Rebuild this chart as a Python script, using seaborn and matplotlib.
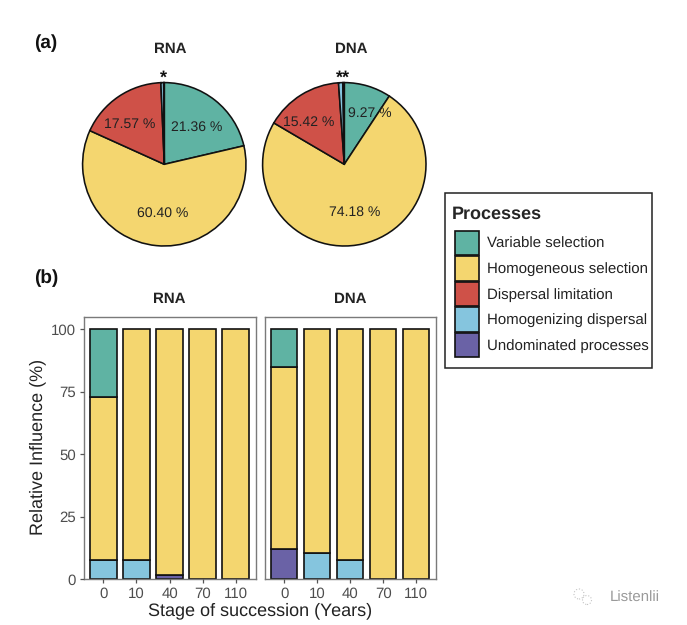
import matplotlib
matplotlib.use('Agg')
import matplotlib.pyplot as plt
from matplotlib.patches import Patch, Ellipse, Rectangle
import numpy as np
import pandas as pd
import seaborn as sns

W, H = 687, 625

processes = ['Variable selection', 'Homogeneous selection', 'Dispersal limitation',
             'Homogenizing dispersal', 'Undominated processes']
colors = ['#5FB3A3', '#F4D66F', '#CF5148', '#85C5DE', '#6A62A6']
stages = ['0', '10', '40', '70', '110']

# pie shares, same order as processes
pie_rna = [21.36, 60.40, 17.57, 0.55, 0.12]
pie_dna = [9.27, 74.18, 15.42, 0.85, 0.28]

# bar values per stage
rna_variable = [27.3, 0, 0, 0, 0]
rna_homogeneous = [65.1, 92.4, 98.4, 100, 100]
rna_limitation = [0, 0, 0, 0, 0]
rna_homogenizing = [7.6, 7.6, 0, 0, 0]
rna_undominated = [0, 0, 1.6, 0, 0]

dna_variable = [15.1, 0, 0, 0, 0]
dna_homogeneous = [72.8, 89.5, 92.4, 100, 100]
dna_limitation = [0, 0, 0, 0, 0]
dna_homogenizing = [0, 10.5, 7.6, 0, 0]
dna_undominated = [12.1, 0, 0, 0, 0]

sns.set_theme(style='white')
plt.rcParams['font.family'] = ['Liberation Sans', 'DejaVu Sans']
plt.rcParams['text.hinting'] = 'no_hinting'
plt.rcParams['text.hinting_factor'] = 1


def px_axes(fig, left, top, right, bottom):
    """Axes from pixel box, y counted from the top of the image."""
    return fig.add_axes([left / W, 1 - bottom / H, (right - left) / W, (bottom - top) / H])


def px_text(fig, x, y, s, **kw):
    kw.setdefault('ha', 'center')
    kw.setdefault('va', 'center')
    fig.text(x / W, 1 - y / H, s, **kw)


def draw_pie(ax, values):
    wedges, _ = ax.pie(values, colors=colors, startangle=90, counterclock=False, radius=1,
                       wedgeprops={'edgecolor': '#111111', 'linewidth': 1.15})
    for w in wedges:
        w.set_clip_on(False)
    ax.set_xlim(-1, 1)
    ax.set_ylim(-1, 1)


def draw_bars(ax, layers):
    df = pd.DataFrame(layers, index=stages)
    # stack from the bottom up: undominated, homogenizing, limitation, homogeneous, variable
    base = np.zeros(len(stages))
    for proc in processes[::-1]:
        vals = df[proc].values.astype(float)
        keep = vals > 0
        sns.barplot(x=np.array(stages)[keep], y=vals[keep], order=stages, bottom=base[keep],
                    color=colors[processes.index(proc)], saturation=1, width=0.8,
                    edgecolor='#111111', linewidth=1.2, ax=ax)
        base = base + vals
    ax.set_xlim(-0.6, 4.6)
    ax.set_ylim(0, 105)
    ax.set_xlabel('')
    ax.set_ylabel('')
    for s in ax.spines.values():
        s.set_color('#7a7a7a')
        s.set_linewidth(1.0)
    ax.tick_params(axis='x', bottom=True, length=3, width=0.9, color='#555555',
                   labelsize=10.8, labelcolor='#4d4d4d', pad=2.5)
    ax.set_axisbelow(False)


fig = plt.figure(figsize=(W / 100, H / 100), dpi=100)

# (a) pies
ax_pie1 = px_axes(fig, 82.6, 82.6, 246, 246)
draw_pie(ax_pie1, pie_rna)
ax_pie2 = px_axes(fig, 262.6, 82.6, 426, 246)
draw_pie(ax_pie2, pie_dna)

px_text(fig, 46, 43, '(a)', fontsize=14, fontweight='bold', color='#111111')
px_text(fig, 46, 278, '(b)', fontsize=14, fontweight='bold', color='#111111')
for x, y, s in [(170, 49, 'RNA'), (351, 49, 'DNA'), (169, 299.5, 'RNA'), (350, 299.5, 'DNA')]:
    px_text(fig, x, y, s, fontsize=10.8, fontweight='bold', color='#222222')
px_text(fig, 163, 78, '*', fontsize=13, fontweight='bold', color='#111111')
px_text(fig, 343, 78, '**', fontsize=13, fontweight='bold', color='#111111')

pie_labels = [(197, 127, '21.36 %'), (130, 124, '17.57 %'), (163, 213.5, '60.40 %'),
              (309, 122, '15.42 %'), (370, 113, '9.27 %'), (355, 212.5, '74.18 %')]
for x, y, s in pie_labels:
    px_text(fig, x, y, s, fontsize=10.4, color='#222222')

# (b) stacked bars
ax_rna = px_axes(fig, 83.5, 316.7, 255.5, 579)
draw_bars(ax_rna, dict(zip(processes, [rna_variable, rna_homogeneous, rna_limitation,
                                       rna_homogenizing, rna_undominated])))
ax_rna.set_yticks([0, 25, 50, 75, 100])
ax_rna.tick_params(axis='y', left=True, length=3, width=0.9, color='#555555',
                   labelsize=10.8, labelcolor='#4d4d4d', pad=2.5)

ax_dna = px_axes(fig, 264.5, 316.7, 436, 579)
draw_bars(ax_dna, dict(zip(processes, [dna_variable, dna_homogeneous, dna_limitation,
                                       dna_homogenizing, dna_undominated])))
ax_dna.set_yticks([])

px_text(fig, 38, 447, 'Relative Influence (%)', fontsize=13, rotation=90, color='#222222')
px_text(fig, 260, 611, 'Stage of succession (Years)', fontsize=12.8, color='#222222')

# legend: frame drawn separately so its padding can differ per side
fig.add_artist(Rectangle((444.7 / W, 1 - 368 / H), 207.3 / W, 175 / H, transform=fig.transFigure,
                         facecolor='white', edgecolor='#222222', linewidth=1.1))
handles = [Patch(facecolor=c, edgecolor='#111111', linewidth=1.2) for c in colors]
leg = fig.legend(handles, processes, title='Processes', loc='upper left',
                 bbox_to_anchor=(452 / W, 1 - 205.7 / H), borderaxespad=0,
                 fontsize=10.5, handlelength=1.63, handleheight=2.19, labelspacing=0.08,
                 handletextpad=0.55, borderpad=0, alignment='left', frameon=False,
                 title_fontproperties={'size': 12.8, 'weight': 'bold', 'family': 'Liberation Sans'})
leg._legend_box.sep = 3.9
leg._legend_handle_box.pad = 2
for t in leg.get_texts():
    t.set_color('#222222')

# watermark
px_text(fig, 635, 598, 'Listenlii', fontsize=11, color='#9a9a9a')
for cx, cy, r in [(579, 594, 5), (587, 600, 4.5)]:
    fig.add_artist(Ellipse((cx / W, 1 - cy / H), 2 * r / W, 2 * r / H, fill=False,
                           edgecolor='#c4c4c4', linewidth=0.8, linestyle=':'))

fig.savefig('out.png', dpi=100)
